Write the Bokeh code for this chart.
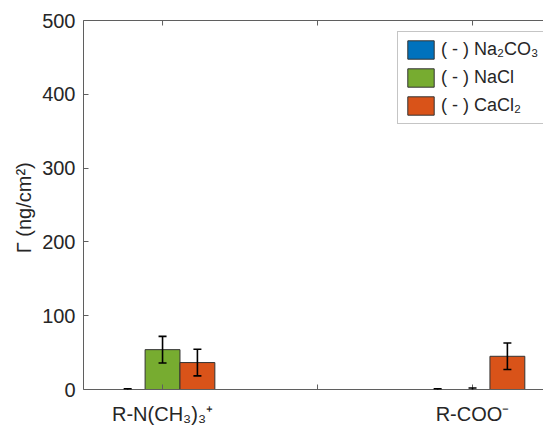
import math
from bokeh.plotting import figure
from bokeh.models import (Range1d, FixedTicker, LinearAxis, Legend, LegendItem,
                          ColumnDataSource, Whisker, TeeHead)
from bokeh.embed import file_html
from bokeh.resources import INLINE

# ---- data ----
tick_positions = [1, 2, 3]
label_positions = [1, 3]
tick_labels = ["R-N(CH₃)₃⁺", "R-COO⁻"]
group_x = [1, 3]
series_names = ["( - ) Na₂CO₃", "( - ) NaCl", "( - ) CaCl₂"]
na2co3 = [0.0, 0.0]
na2co3_err = [1.0, 1.0]
nacl = [54.0, 0.0]
nacl_err = [18.0, 2.0]
cacl2 = [36.5, 45.0]
cacl2_err = [18.0, 18.0]
y_ticks = [0, 100, 200, 300, 400, 500]
y_min, y_max = 0, 500

colors = ["#0072BD", "#77AC30", "#D95319"]
offsets = [-0.225, 0.0, 0.225]
bar_w = 0.225
text_col = "#262626"
axis_col = "#5f5f5f"
font = "Liberation Sans"

p = figure(width=543, height=430, output_backend="svg", toolbar_location=None,
           x_range=Range1d(0.49, 3.458), y_range=Range1d(y_min, y_max),
           x_axis_location=None, y_axis_location=None,
           min_border_left=83, min_border_right=0, min_border_top=20,
           min_border_bottom=41, outline_line_color=None,
           background_fill_color="white", border_fill_color="white")
p.xgrid.visible = False
p.ygrid.visible = False

# axes
xb = LinearAxis(ticker=FixedTicker(ticks=label_positions))
xb.major_label_overrides = {k: v for k, v in zip(label_positions, tick_labels)}
xa = LinearAxis(ticker=FixedTicker(ticks=[]))
xa.major_label_standoff = 0
yl = LinearAxis(ticker=FixedTicker(ticks=y_ticks), axis_label="Γ  (ng/cm²)")

for ax in (xb, xa, yl):
    ax.axis_line_color = axis_col
    ax.axis_line_width = 1
    ax.major_tick_line_color = axis_col
    ax.major_tick_in = 5
    ax.major_tick_out = 0
    ax.minor_tick_line_color = None
    ax.major_label_text_font = font
    ax.major_label_text_color = text_col

xb.major_label_text_font_size = "20px"
xb.major_label_standoff = 13
yl.major_label_text_font_size = "20px"
yl.major_label_standoff = 8
yl.axis_label_text_font = font
yl.axis_label_text_font_size = "20px"
yl.axis_label_text_font_style = "normal"
yl.axis_label_text_color = text_col
yl.axis_label_standoff = 4

p.add_layout(xb, "below")
p.add_layout(xa, "above")
p.add_layout(yl, "left")

# inward tick marks on the top edge and at the unlabeled bottom position
p.scatter(x=tick_positions, y=[y_max] * len(tick_positions), marker="dash",
          angle=math.pi / 2, size=10, line_color=axis_col, line_width=1)
p.scatter(x=[2], y=[y_min], marker="dash", angle=math.pi / 2, size=10,
          line_color=axis_col, line_width=1)

# bars + error bars
vals = [na2co3, nacl, cacl2]
errs = [na2co3_err, nacl_err, cacl2_err]
items = []
for name, v, e, c, off in zip(series_names, vals, errs, colors, offsets):
    xs = [g + off for g in group_x]
    src = ColumnDataSource(dict(x=xs, top=v,
                                upper=[a + b for a, b in zip(v, e)],
                                lower=[a - b for a, b in zip(v, e)]))
    r = p.vbar(x="x", top="top", width=bar_w, bottom=0, source=src,
               fill_color=c, line_color="#333333", line_width=1)
    items.append(LegendItem(label=name, renderers=[r]))
    w = Whisker(base="x", upper="upper", lower="lower", source=src,
                line_color="black", line_width=1.6, level="annotation",
                upper_head=TeeHead(size=8, line_color="black", line_width=1.6),
                lower_head=TeeHead(size=8, line_color="black", line_width=1.6))
    p.add_layout(w)

legend = Legend(items=items, location=(314, 265),
                glyph_width=33, glyph_height=23, label_height=23,
                label_standoff=4, spacing=5, padding=6, margin=0,
                label_text_font=font, label_text_font_size="18px",
                label_text_color=text_col,
                border_line_color="#8c8c8c", border_line_width=1,
                background_fill_color="white", background_fill_alpha=1)
p.add_layout(legend, "center")

open("out.html", "w").write(file_html(p, INLINE))
